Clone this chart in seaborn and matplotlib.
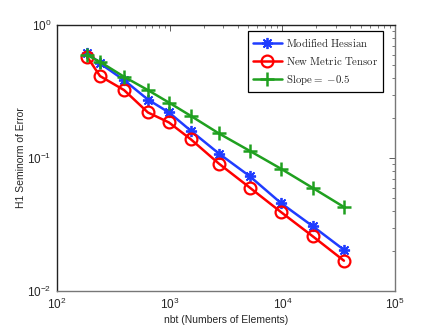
#Import Libraries:

import matplotlib
matplotlib.use("Agg")
import matplotlib.pyplot as plt
import seaborn as sns
import pandas as pd

#Data
nbt = [185, 241, 394, 641, 986, 1545, 2735, 5150, 9730, 18700, 35200]
modified_hessian = [0.62, 0.514, 0.385, 0.275, 0.220, 0.160, 0.108, 0.0728, 0.0458, 0.0306, 0.0204]
new_metric = [0.577, 0.413, 0.324, 0.220, 0.185, 0.138, 0.0907, 0.0598, 0.0392, 0.0257, 0.0169]
slope_ref = [0.594, 0.528, 0.408, 0.324, 0.261, 0.207, 0.153, 0.113, 0.083, 0.0594, 0.0428]

labels = ["Modified Hessian", "New Metric Tensor", "Slope= -0.5"]
legend_text = [r"$\mathrm{Modified\ Hessian}$", r"$\mathrm{New\ Metric\ Tensor}$", r"$\mathrm{Slope}{=}\ {-0.5}$"]

sns.set_style("white")
plt.rcParams["font.family"] = ["Liberation Sans", "DejaVu Sans"]
plt.rcParams["mathtext.fontset"] = "custom"
plt.rcParams["mathtext.rm"] = "Liberation Sans"
plt.rcParams["mathtext.it"] = "Liberation Sans:italic"

df = pd.DataFrame({
    "nbt": nbt * 3,
    "err": modified_hessian + new_metric + slope_ref,
    "method": [labels[0]] * len(nbt) + [labels[1]] * len(nbt) + [labels[2]] * len(nbt),
})

fig = plt.figure(figsize=(4.36, 3.28), dpi=100)
ax = fig.add_axes([0.1307, 0.1128, 0.7753, 0.811])

#style for each series
styles = {
    labels[0]: dict(color="#1f3cff", marker=(8, 2, 0), markersize=8, markeredgewidth=1.3),
    labels[1]: dict(color="#ff0000", marker="o", markersize=8.5, markerfacecolor="none", markeredgewidth=1.6),
    labels[2]: dict(color="#1fa01f", marker="+", markersize=10, markeredgewidth=1.8),
}

for name in labels:
    sub = df[df["method"] == name]
    st = styles[name]
    sns.lineplot(x="nbt", y="err", data=sub, ax=ax, color=st["color"], linewidth=1.8,
                 marker=st["marker"], markersize=st["markersize"],
                 markeredgecolor=st["color"], markeredgewidth=st["markeredgewidth"],
                 markerfacecolor=st.get("markerfacecolor", st["color"]),
                 label=name, estimator=None, sort=False)

ax.set_xscale("log")
ax.set_yscale("log")
ax.set_xlim(1e2, 1e5)
ax.set_ylim(1e-2, 1e0)

ax.set_xlabel("nbt (Numbers of Elements)", fontsize=7.5, labelpad=2)
ax.set_ylabel("H1 Seminorm of Error", fontsize=7.5, labelpad=1)

ax.tick_params(which="both", direction="in", top=True, right=True, labelsize=8.5, color="#444444")
ax.tick_params(which="major", length=4, width=0.6, pad=4)
ax.tick_params(which="minor", length=2.5, width=0.5)

for side in ["left", "top"]:
    ax.spines[side].set_color("#222222")
for side in ["bottom", "right"]:
    ax.spines[side].set_color("#777777")
for side in ax.spines:
    ax.spines[side].set_linewidth(1.0)

leg = ax.legend(loc="upper right", bbox_to_anchor=(0.974, 0.99), fontsize=7.8, frameon=True,
                fancybox=False, edgecolor="black", framealpha=1, handlelength=2.7,
                borderpad=0.45, labelspacing=0.55, handletextpad=0.35, borderaxespad=0.3)
leg.get_frame().set_linewidth(0.9)
for t, txt in zip(leg.get_texts(), legend_text):
    t.set_text(txt)
    t.set_math_fontfamily("cm")

fig.savefig("out.png", dpi=100, facecolor="white")
